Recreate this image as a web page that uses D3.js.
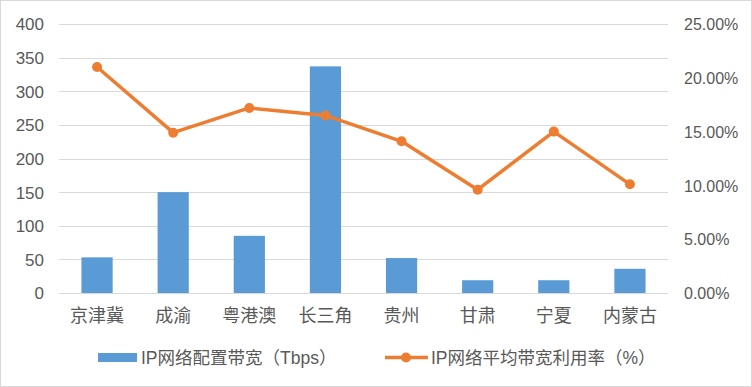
<!DOCTYPE html>
<html>
<head>
<meta charset="utf-8">
<script src="https://cdn.jsdelivr.net/npm/d3@7"></script>
<style>
  body { margin: 0; background: #fff; }
  svg text { font-family: "Liberation Sans", "Noto Sans CJK SC", sans-serif; fill: #595959; }
</style>
</head>
<body>
<div id="chart"></div>
<script>
const categories = ["京津冀", "成渝", "粤港澳", "长三角", "贵州", "甘肃", "宁夏", "内蒙古"];
const bandwidth = [53, 150, 85, 337, 52, 19, 19, 36];
const utilization = [0.210, 0.149, 0.172, 0.165, 0.141, 0.096, 0.150, 0.101];
const leftTicks = [0, 50, 100, 150, 200, 250, 300, 350, 400];
const rightTicks = [0, 0.05, 0.10, 0.15, 0.20, 0.25];
const seriesNames = ["IP网络配置带宽（Tbps）", "IP网络平均带宽利用率（%）"];

const width = 752, height = 387;
const margin = { top: 24, right: 84, bottom: 94, left: 59 };

const svg = d3.select("#chart").append("svg")
  .attr("width", width)
  .attr("height", height);

svg.append("rect")
  .attr("x", 0.5).attr("y", 0.5)
  .attr("width", width - 1).attr("height", height - 1)
  .attr("fill", "#fff").attr("stroke", "#d9d9d9");

const x = d3.scaleBand()
  .domain(categories)
  .range([margin.left, width - margin.right])
  .paddingInner(0.59).paddingOuter(0.295);

const y = d3.scaleLinear().domain([0, 400]).range([height - margin.bottom, margin.top]);
const y2 = d3.scaleLinear().domain([0, 0.25]).range([height - margin.bottom, margin.top]);

// gridlines
svg.append("g")
  .selectAll("line")
  .data(leftTicks)
  .join("line")
  .attr("x1", margin.left).attr("x2", width - margin.right)
  .attr("y1", d => Math.round(y(d)) + 0.5).attr("y2", d => Math.round(y(d)) + 0.5)
  .attr("stroke", "#d9d9d9").attr("stroke-width", 1);

// left axis
const yAxis = svg.append("g")
  .attr("transform", `translate(${margin.left - 15},0)`)
  .call(d3.axisLeft(y).tickValues(leftTicks).tickSize(0).tickPadding(0));
yAxis.select(".domain").remove();
yAxis.selectAll("text").style("font-size", "17px").attr("dy", "0.35em");

// right axis
const y2Axis = svg.append("g")
  .attr("transform", `translate(${width - margin.right + 16},0)`)
  .call(d3.axisRight(y2).tickValues(rightTicks).tickSize(0).tickPadding(0).tickFormat(d3.format(".2%")));
y2Axis.select(".domain").remove();
y2Axis.selectAll("text").style("font-size", "16px").attr("dy", "0.35em");

// bars
svg.append("g")
  .selectAll("rect")
  .data(categories)
  .join("rect")
  .attr("x", d => x(d))
  .attr("y", (d, i) => y(bandwidth[i]))
  .attr("width", x.bandwidth())
  .attr("height", (d, i) => y(0) - y(bandwidth[i]))
  .attr("fill", "#5b9bd5");

// x axis labels
const xAxis = svg.append("g")
  .attr("transform", `translate(0,${height - margin.bottom})`)
  .call(d3.axisBottom(x).tickSize(0).tickPadding(16));
xAxis.select(".domain").remove();
xAxis.selectAll("text").style("font-size", "18px");

// line
const line = d3.line()
  .x((d, i) => x(categories[i]) + x.bandwidth() / 2)
  .y(d => y2(d));

svg.append("path")
  .datum(utilization)
  .attr("d", line)
  .attr("fill", "none")
  .attr("stroke", "#ed7d31")
  .attr("stroke-width", 3.5)
  .attr("stroke-linejoin", "round");

svg.append("g")
  .selectAll("circle")
  .data(utilization)
  .join("circle")
  .attr("cx", (d, i) => x(categories[i]) + x.bandwidth() / 2)
  .attr("cy", d => y2(d))
  .attr("r", 5)
  .attr("fill", "#ed7d31");

// legend
const legend = svg.append("g");
legend.append("rect")
  .attr("x", 98).attr("y", 353).attr("width", 39).attr("height", 9)
  .attr("fill", "#5b9bd5");
legend.append("text")
  .attr("x", 141).attr("y", 364)
  .style("font-size", "17.5px")
  .text(seriesNames[0]);
legend.append("line")
  .attr("x1", 385).attr("x2", 428).attr("y1", 357.5).attr("y2", 357.5)
  .attr("stroke", "#ed7d31").attr("stroke-width", 3.5);
legend.append("circle")
  .attr("cx", 406).attr("cy", 357.5).attr("r", 5)
  .attr("fill", "#ed7d31");
legend.append("text")
  .attr("x", 431).attr("y", 364)
  .style("font-size", "17.5px")
  .text(seriesNames[1]);
</script>
</body>
</html>
